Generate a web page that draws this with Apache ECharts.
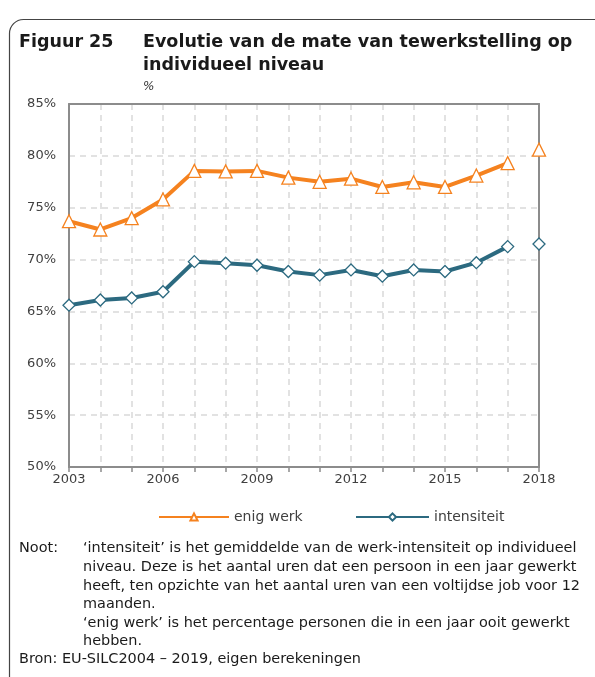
<!DOCTYPE html>
<html>
<head>
<meta charset="utf-8">
<script src="https://cdn.jsdelivr.net/npm/echarts@6/dist/echarts.min.js"></script>
<style>
html,body{margin:0;padding:0;background:#fff;}
#c{width:595px;height:677px;}
</style>
</head>
<body>
<div id="c"></div>
<script>
const years = ['2003','2004','2005','2006','2007','2008','2009','2010','2011','2012','2013','2014','2015','2016','2017','2018'];
const enigWerk = [73.7, 72.9, 74.0, 75.8, 78.55, 78.5, 78.55, 77.9, 77.5, 77.8, 77.0, 77.45, 77.0, 78.1, 79.3, 80.6];
const intensiteit = [65.6, 66.1, 66.3, 66.9, 69.8, 69.65, 69.45, 68.85, 68.5, 69.0, 68.4, 69.0, 68.85, 69.7, 71.25, 71.5];
const yTicks = [50, 55, 60, 65, 70, 75, 80, 85];
const titleLabel = 'Figuur 25';
const titleLines = ['Evolutie van de mate van tewerkstelling op', 'individueel niveau'];
const unitLabel = '%';
const noteLines = [
  '\u2018intensiteit\u2019 is het gemiddelde van de werk-intensiteit op individueel',
  'niveau. Deze is het aantal uren dat een persoon in een jaar gewerkt',
  'heeft, ten opzichte van het aantal uren van een voltijdse job voor 12',
  'maanden.',
  '\u2018enig werk\u2019 is het percentage personen die in een jaar ooit gewerkt',
  'hebben.'
];
const sourceLine = 'Bron: EU-SILC2004 \u2013 2019, eigen berekeningen';

const ORANGE = '#F5821F';
const BLUE = '#2C6A80';
const FONT = '"DejaVu Sans", Verdana, sans-serif';
const lastIdx = years.length - 1;
const mainPart = arr => arr.map((v, i) => i < lastIdx ? v : '-');
const lastPart = arr => arr.map((v, i) => i === lastIdx ? v : '-');

const chart = echarts.init(document.getElementById('c'), null, {renderer: 'canvas'});

const NOTE_FONT = '14.45px ' + FONT;
const TITLE_FONT = 'bold 17.5px ' + FONT;
const graphics = [
  {type: 'rect', shape: {x: 9.5, y: 19.5, width: 620, height: 700, r: [14, 0, 0, 0]}, style: {fill: 'none', stroke: '#444', lineWidth: 1.2}, silent: true},
  {type: 'text', style: {text: titleLabel, x: 19, y: 42, font: TITLE_FONT, fill: '#1a1a1a', verticalAlign: 'middle'}},
  {type: 'text', style: {text: titleLines[0], x: 143, y: 42, font: TITLE_FONT, fill: '#1a1a1a', verticalAlign: 'middle'}},
  {type: 'text', style: {text: titleLines[1], x: 143, y: 65, font: TITLE_FONT, fill: '#1a1a1a', verticalAlign: 'middle'}},
  {type: 'text', style: {text: unitLabel, x: 143, y: 87, font: 'italic 12px ' + FONT, fill: '#333', verticalAlign: 'middle'}},
  {type: 'text', style: {text: 'Noot:', x: 19, y: 548, font: NOTE_FONT, fill: '#1a1a1a', verticalAlign: 'middle'}}
];
const noteY = [548, 567, 586, 604, 623, 641];
noteLines.forEach((t, i) => {
  graphics.push({type: 'text', style: {text: t, x: 83, y: noteY[i], font: NOTE_FONT, fill: '#1a1a1a', verticalAlign: 'middle'}});
});
graphics.push({type: 'text', style: {text: sourceLine, x: 19, y: 659, font: NOTE_FONT, fill: '#1a1a1a', verticalAlign: 'middle'}});

const frameAxisLine = {show: true, lineStyle: {color: '#8c8c8c', width: 2}};
const option = {
  animation: false,
  backgroundColor: '#fff',
  textStyle: {fontFamily: FONT},
  grid: {left: 69, right: 56, top: 104, bottom: 210, show: false, containLabel: false},
  legend: [
    {data: ['enig werk'], left: 153, top: 505, itemWidth: 70, itemHeight: 9, itemGap: 4,
     textStyle: {fontSize: 14, color: '#404040', fontFamily: FONT}},
    {data: ['intensiteit'], left: 350, top: 505, itemWidth: 73, itemHeight: 9, itemGap: 4,
     textStyle: {fontSize: 14, color: '#404040', fontFamily: FONT}}
  ],
  xAxis: [{
    type: 'category', data: years, boundaryGap: false,
    axisLine: frameAxisLine,
    axisTick: {show: true, interval: 0, length: 5, lineStyle: {color: '#8c8c8c', width: 1.5}},
    axisLabel: {interval: 2, color: '#404040', fontSize: 13, margin: 6, fontFamily: FONT},
    splitLine: {show: true, interval: 0, lineStyle: {color: '#d9d9d9', width: 1.5, type: [6, 5]}}
  }, {
    type: 'category', data: years, boundaryGap: false, position: 'top',
    axisLine: frameAxisLine, axisTick: {show: false}, axisLabel: {show: false}, splitLine: {show: false}
  }],
  yAxis: [{
    type: 'value', min: yTicks[0], max: yTicks[yTicks.length - 1], interval: 5,
    axisLine: frameAxisLine,
    axisTick: {show: false},
    axisLabel: {formatter: '{value}%', color: '#404040', fontSize: 13, margin: 13, fontFamily: FONT},
    splitLine: {show: true, lineStyle: {color: '#d9d9d9', width: 1.5, type: [6, 5]}}
  }, {
    type: 'value', min: yTicks[0], max: yTicks[yTicks.length - 1], interval: 5, position: 'right',
    axisLine: frameAxisLine, axisTick: {show: false}, axisLabel: {show: false}, splitLine: {show: false}
  }],
  graphic: graphics,
  series: [
    {name: 'enig werk', type: 'line', data: mainPart(enigWerk), symbol: 'triangle', symbolSize: 13,
     lineStyle: {color: ORANGE, width: 4}, itemStyle: {color: '#fff', borderColor: ORANGE, borderWidth: 1.3}, z: 3},
    {name: 'enig werk', type: 'line', data: lastPart(enigWerk), symbol: 'triangle', symbolSize: 13,
     lineStyle: {width: 0}, itemStyle: {color: '#fff', borderColor: ORANGE, borderWidth: 1.3}, z: 3},
    {name: 'intensiteit', type: 'line', data: mainPart(intensiteit), symbol: 'diamond', symbolSize: 12,
     lineStyle: {color: BLUE, width: 4}, itemStyle: {color: '#fff', borderColor: BLUE, borderWidth: 1.3}, z: 3},
    {name: 'intensiteit', type: 'line', data: lastPart(intensiteit), symbol: 'diamond', symbolSize: 12,
     lineStyle: {width: 0}, itemStyle: {color: '#fff', borderColor: BLUE, borderWidth: 1.3}, z: 3}
  ]
};
chart.setOption(option);
</script>
</body>
</html>
